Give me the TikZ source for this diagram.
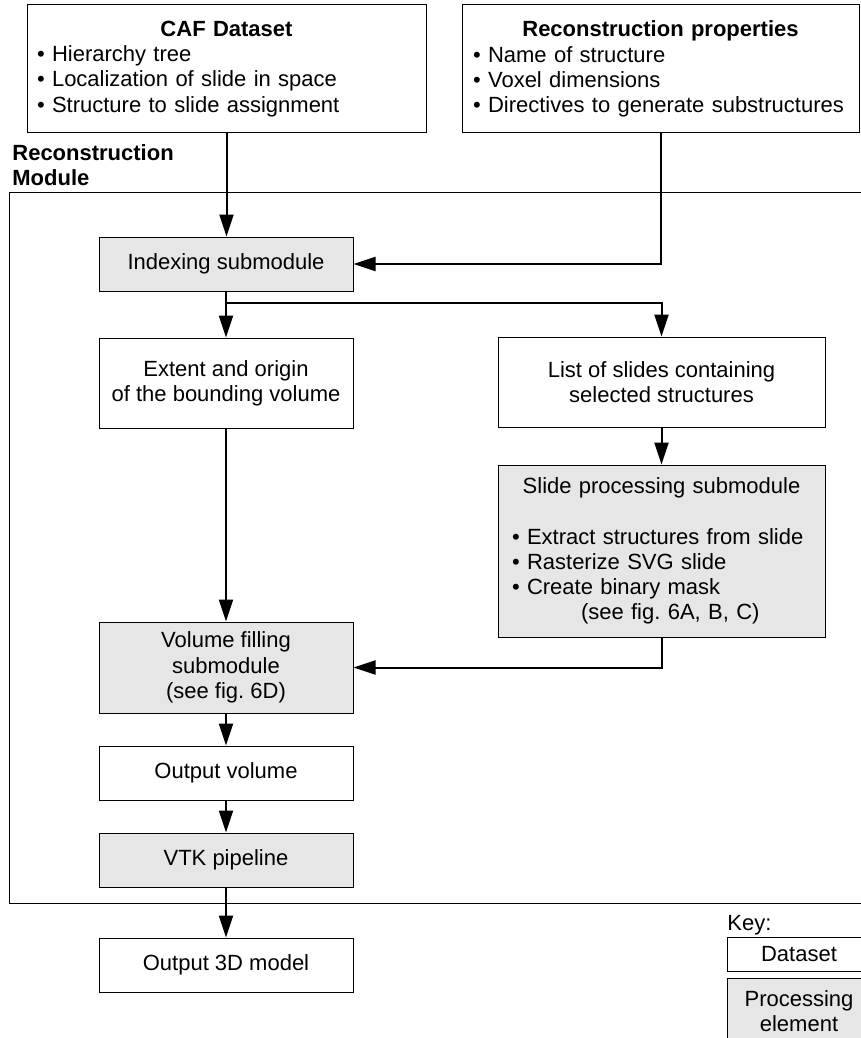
\documentclass[tikz,border=0pt]{standalone}
\usepackage{fontspec}
\setmainfont{Liberation Sans}
\usetikzlibrary{arrows.meta,positioning,calc}
\definecolor{procgray}{HTML}{E6E6E6}
\frenchspacing

\begin{document}
\begin{tikzpicture}[
      x=0.5pt, y=-0.5pt,
      every node/.style={align=center, font=\fontsize{11}{12.6}\selectfont, inner sep=0pt},
      box/.style={draw, line width=0.5pt, minimum width=127pt, minimum height=27pt},
      dataset/.style={box, fill=white},
      process/.style={box, fill=procgray},
      wide/.style={minimum width=163.5pt},
      listbox/.style={draw, line width=0.5pt, fill=white, minimum height=64pt, align=left},
      flow/.style={line width=1pt, -{Triangle[length=11pt,width=7pt]}}
    ]
    \useasboundingbox (0,0) rectangle (861,1038);

    % module frame and its label
    \draw[line width=0.5pt] (9,192) rectangle (875,903);
    \node[anchor=north west, align=left, font=\fontsize{11}{12.6}\selectfont\bfseries] (modlabel) at (12,144) {Reconstruction\\Module};

    % inputs
    \node[listbox, minimum width=199.5pt, text width=189.5pt] (caf) at (226.5,69) {\makebox[\hsize]{\bfseries CAF Dataset}\\ • Hierarchy tree\\ • Localization of slide in space\\ • Structure to slide assignment};
    \node[listbox, minimum width=198.5pt, text width=187.5pt] (props) at (660.5,69) {\makebox[\hsize]{\bfseries Reconstruction properties}\\ • Name of structure\\ • Voxel dimensions\\ • Directives to generate substructures};

    % left column
    \node[process] (idx) at (226,264) {Indexing submodule};
    \node[dataset, minimum height=45pt, below=23pt of idx] (extent) {Extent and origin\\of the bounding volume};
    \node[process, minimum height=45.5pt] (fill) at (226,667.5) {Volume filling\\submodule\\(see fig. 6D)};
    \node[dataset, below=16pt of fill] (outvol) {Output volume};
    \node[process, below=16pt of outvol] (vtk) {VTK pipeline};
    \node[dataset, below=25pt of vtk] (out3d) {Output 3D model};

    % right column
    \node[dataset, wide, minimum height=45pt] (list) at (661.5,382) {List of slides containing\\selected structures};
    \node[process, wide, minimum height=86pt, text width=149.5pt, align=left, below=18.5pt of list] (slide) {\makebox[\hsize]{Slide processing submodule}\\[12.6pt] • Extract structures from slide\\ • Rasterize SVG slide\\ • Create binary mask\\ \hspace*{34.5pt}(see fig. 6A, B, C)};

    % key
    \node[anchor=base west] (keylabel) at (727,930) {Key:};
    \node[dataset, minimum width=72pt, minimum height=17pt] (keyds) at (799,954) {Dataset};
    \node[process, minimum width=72pt, minimum height=33pt] (keyproc) at (799,1011) {Processing\\element};

    % connectors
    \coordinate[below=5.5pt of idx.south] (split);
    \draw[flow] (caf.south) -- (caf.south |- idx.north);
    \draw[flow] (props.south) |- (idx.east);
    \draw[flow] (idx.south) -- (extent.north);
    \draw[flow] (split) -| (list.north);
    \draw[flow] (list) -- (slide);
    \draw[flow] (slide.south) |- (fill.east);
    \draw[flow] (extent) -- (fill);
    \draw[flow] (fill) -- (outvol);
    \draw[flow] (outvol) -- (vtk);
    \draw[flow] (vtk) -- (out3d);
  \end{tikzpicture}
\end{document}
